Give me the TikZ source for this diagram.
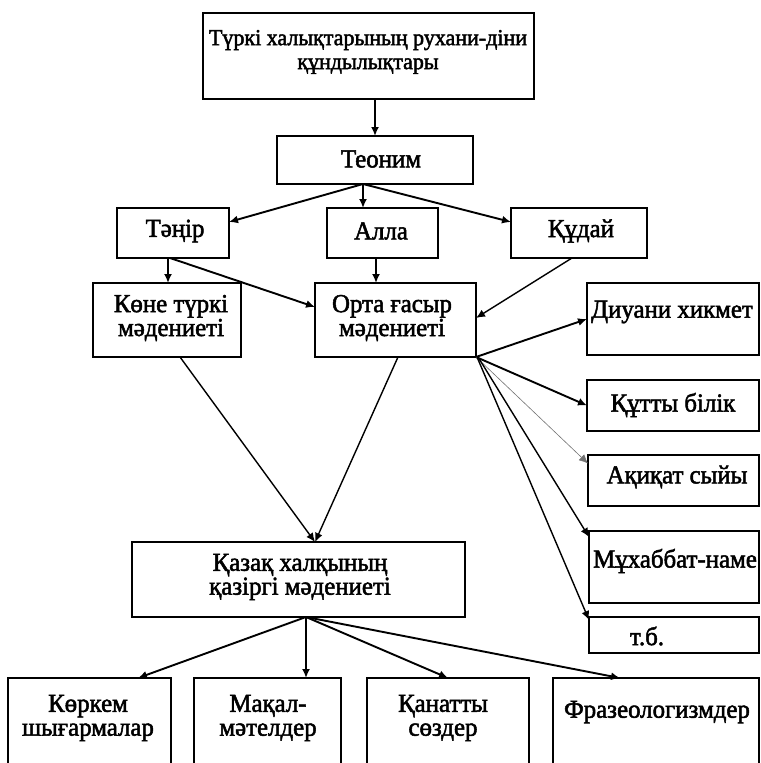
\documentclass[tikz,border=0pt]{standalone}
\usepackage{fontspec}
\setmainfont{Liberation Serif}[FakeBold=2, FakeStretch=0.96]
\usetikzlibrary{arrows.meta}
\begin{document}
\begin{tikzpicture}[x=1bp,y=-1bp,
  box/.style={draw=black, line width=1.6bp, rectangle, inner sep=0pt, outer sep=0pt, anchor=north west, fill=none},
  txt/.style={align=center, inner sep=0pt, font=\fontsize{26}{24}\selectfont},
  txtsmall/.style={align=center, inner sep=0pt, font=\fontsize{23}{24}\selectfont},
  arr/.style={line width=1.9bp, -{Latex[length=9bp,width=8bp]}},
  thinarr/.style={line width=1.4bp, -{Latex[length=9bp,width=8bp]}},
  faintarr/.style={line width=0.6bp, draw=black!55, -{Latex[length=9bp,width=8bp]}}
]
\useasboundingbox (0,0) rectangle (761,763);
\fill[white] (0,0) rectangle (761,763);
\clip (0,0) rectangle (761,763);

% boxes
\node[box, minimum width=331bp, minimum height=86bp] (top) at (203,13) {};
\node[box, minimum width=196bp, minimum height=48bp] (theonim) at (277,136) {};
\node[box, minimum width=112bp, minimum height=50bp] (tanir) at (117,208) {};
\node[box, minimum width=111bp, minimum height=50bp] (alla) at (327,208) {};
\node[box, minimum width=136bp, minimum height=50bp] (qudai) at (511,208) {};
\node[box, minimum width=148bp, minimum height=74bp] (kone) at (93,283) {};
\node[box, minimum width=161bp, minimum height=74bp] (orta) at (315,283) {};
\node[box, minimum width=172bp, minimum height=72bp] (diuani) at (587,283) {};
\node[box, minimum width=172bp, minimum height=51bp] (qutty) at (587,380) {};
\node[box, minimum width=171bp, minimum height=51bp] (aqiqat) at (588,455) {};
\node[box, minimum width=170bp, minimum height=72bp] (mukh) at (589,531) {};
\node[box, minimum width=170bp, minimum height=36bp] (tb) at (589,617) {};
\node[box, minimum width=333bp, minimum height=75bp] (qazaq) at (132,542) {};
\node[box, minimum width=163bp, minimum height=120bp] (korkem) at (8,678) {};
\node[box, minimum width=147bp, minimum height=120bp] (maqal) at (194,678) {};
\node[box, minimum width=162bp, minimum height=120bp] (qanatty) at (367,678) {};
\node[box, minimum width=206bp, minimum height=120bp] (fraz) at (553,678) {};

% texts
\node[txtsmall] (topT) at (368,52) {Түркі халықтарының рухани-діни\\құндылықтары};
\node[txt] (theonimT) at (381,159) {Теоним};
\node[txt] (tanirT) at (175,231) {Тәңір};
\node[txt] (allaT) at (381,231) {Алла};
\node[txt] (qudaiT) at (581,231) {Құдай};
\node[txt] (koneT) at (171,318) {Көне түркі\\мәдениеті};
\node[txt] (ortaT) at (392,318) {Орта ғасыр\\мәдениеті};
\node[txt] (diuaniT) at (672,312) {Диуани хикмет};
\node[txt] (quttyT) at (673,405) {Құтты білік};
\node[txt] (aqiqatT) at (677,477) {Ақиқат сыйы};
\node[txt] (mukhT) at (675,561) {Мұхаббат-наме};
\node[txt] (tbT) at (647,636) {т.б.};
\node[txt] (qazaqT) at (300,577) {Қазақ халқының\\қазіргі мәдениеті};
\node[txt] (korkemT) at (88,718) {Көркем\\шығармалар};
\node[txt] (maqalT) at (268,718) {Мақал-\\мәтелдер};
\node[txt] (qanattyT) at (443,718) {Қанатты\\сөздер};
\node[txt] (frazT) at (657,712) {Фразеологизмдер};

% connectors
\draw[arr] ([xshift=6.5bp]top.south) -- (theonim.north);
\draw[arr] ([xshift=-12bp]theonim.south) -- ([yshift=11bp]tanir.east);
\draw[arr] ([xshift=-12bp]theonim.south) -- ([xshift=-12bp]theonim.south |- alla.north);
\draw[arr] ([xshift=-12bp]theonim.south) -- ([yshift=11bp]qudai.west);
\draw[arr] ([xshift=-5bp]tanir.south) -- ([xshift=-5bp]tanir.south |- kone.north);
\draw[arr] ([xshift=-3bp]tanir.south) -- ([yshift=13bp]orta.west);
\draw[arr] ([xshift=-6.5bp]alla.south) -- ([xshift=-6.5bp]alla.south |- orta.north);
\draw[thinarr] ([xshift=-7bp]qudai.south) -- ([yshift=2bp]orta.east);
\draw[arr] (orta.south east) -- (diuani.west);
\draw[arr] (orta.south east) -- (qutty.west);
\draw[faintarr] (orta.south east) -- ([yshift=17bp]aqiqat.west);
\draw[thinarr] ([xshift=2bp]orta.south east) -- ([yshift=30bp]mukh.west);
\draw[thinarr] ([xshift=1bp]orta.south east) -- ([yshift=15bp]tb.west);
\draw[thinarr] ([xshift=13bp]kone.south) -- ([xshift=16.5bp]qazaq.north);
\draw[thinarr] ([xshift=2.5bp]orta.south) -- ([xshift=16.5bp]qazaq.north);
\draw[arr] ([xshift=7.5bp]qazaq.south) -- ([xshift=48.5bp]korkem.north);
\draw[arr] ([xshift=7.5bp]qazaq.south) -- ([xshift=7.5bp]qazaq.south |- maqal.north);
\draw[arr] ([xshift=7.5bp]qazaq.south) -- (qanatty.north);
\draw[arr] ([xshift=7.5bp]qazaq.south) -- ([xshift=-36bp]fraz.north);
\end{tikzpicture}
\end{document}
